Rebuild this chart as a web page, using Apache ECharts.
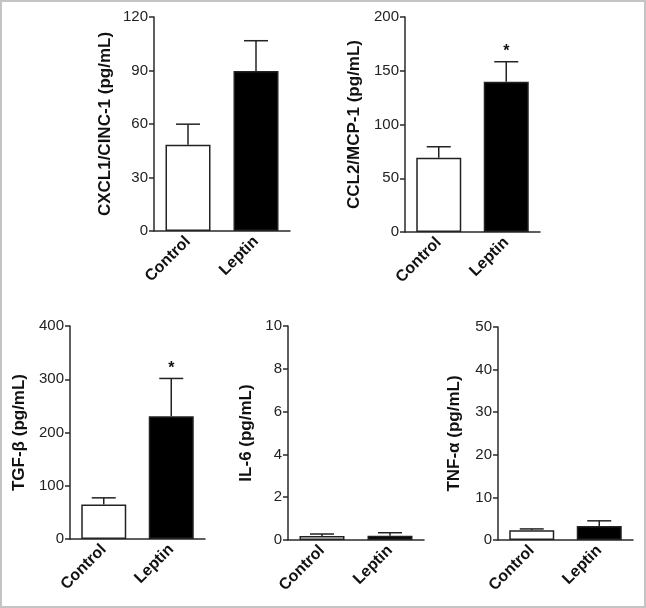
<!DOCTYPE html>
<html>
<head>
<meta charset="utf-8">
<script src="https://cdn.jsdelivr.net/npm/echarts@6/dist/echarts.min.js"></script>
<style>
html,body{margin:0;padding:0;background:#fff;}
#c{width:646px;height:608px;}
</style>
</head>
<body>
<div id="c"></div>
<script>
// ---- data ----
const categories = ['Control', 'Leptin'];
const yNames = ['CXCL1/CINC-1 (pg/mL)', 'CCL2/MCP-1 (pg/mL)', 'TGF-β (pg/mL)', 'IL-6 (pg/mL)', 'TNF-α (pg/mL)'];
const cxcl1Mean = [48.3, 89.7];
const cxcl1Err  = [11.6, 17.0];
const ccl2Mean  = [69.1, 139.8];
const ccl2Err   = [10.2, 18.6];
const tgfMean   = [64.8, 230.3];
const tgfErr    = [12.5, 71.2];
const il6Mean   = [0.19, 0.20];
const il6Err    = [0.09, 0.14];
const tnfMean   = [2.3, 3.3];
const tnfErr    = [0.3, 1.2];
const cxcl1Sig  = ['', ''];
const ccl2Sig   = ['', '*'];
const tgfSig    = ['', '*'];
const il6Sig    = ['', ''];
const tnfSig    = ['', ''];
const yMax      = [120, 200, 400, 10, 50];
const yStep     = [30, 50, 100, 2, 10];

// ---- layout ----
const grids = [
  {left: 154, top: 17, width: 136, height: 214},
  {left: 405, top: 17, width: 135, height: 215},
  {left: 70,  top: 326, width: 135, height: 213},
  {left: 288, top: 326, width: 136, height: 214},
  {left: 498, top: 327, width: 135, height: 213}
];
const nameGaps = [40, 42, 42, 33, 35];
const means = [cxcl1Mean, ccl2Mean, tgfMean, il6Mean, tnfMean];
const errs  = [cxcl1Err, ccl2Err, tgfErr, il6Err, tnfErr];
const sigs  = [cxcl1Sig, ccl2Sig, tgfSig, il6Sig, tnfSig];

const FONT = 'Arial, "Liberation Sans", Helvetica, sans-serif';
const AX = '#2a2a2a';
const barColors = ['#ffffff', '#000000'];

const option = {
  animation: false,
  backgroundColor: '#fff',
  textStyle: {fontFamily: FONT},
  graphic: [{
    type: 'rect', shape: {x: 1, y: 1, width: 644, height: 606},
    style: {fill: 'none', stroke: '#c4c4c4', lineWidth: 2}, silent: true
  }],
  grid: grids.map(g => Object.assign({containLabel: false}, g)),
  xAxis: grids.map((g, i) => ({
    type: 'category', gridIndex: i, data: categories, boundaryGap: true,
    axisLine: {lineStyle: {color: AX, width: 1.5}},
    axisTick: {alignWithLabel: true, length: 5, lineStyle: {color: AX, width: 1.5}},
    axisLabel: {rotate: 45, interval: 0, margin: 8, fontSize: 16, fontWeight: 'bold', color: '#111', fontFamily: FONT},
    splitLine: {show: false}
  })),
  yAxis: grids.map((g, i) => ({
    type: 'value', gridIndex: i, min: 0, max: yMax[i], interval: yStep[i],
    name: yNames[i], nameLocation: 'middle', nameRotate: 90, nameGap: nameGaps[i],
    nameTextStyle: {fontSize: 17, fontWeight: 'bold', color: '#111', fontFamily: FONT},
    axisLine: {show: true, lineStyle: {color: AX, width: 1.5}},
    axisTick: {show: true, length: 5, lineStyle: {color: AX, width: 1.5}},
    axisLabel: {margin: 6, fontSize: 15, color: '#222', fontFamily: FONT},
    splitLine: {show: false}
  })),
  series: []
};

means.forEach((m, i) => {
  option.series.push({
    type: 'bar', xAxisIndex: i, yAxisIndex: i, barWidth: 45,
    data: m.map((v, k) => ({value: v, itemStyle: {color: barColors[k], borderColor: '#222', borderWidth: 1.5}})),
    z: 2
  });
  option.series.push({
    type: 'custom', xAxisIndex: i, yAxisIndex: i, z: 5,
    data: m.map((v, k) => [k, v, v + errs[i][k]]),
    renderItem: function (params, api) {
      const x = api.value(0);
      const lo = api.coord([x, api.value(1)]);
      const hi = api.coord([x, api.value(2)]);
      const sig = sigs[i][params.dataIndex];
      const cap = 12;
      const st = {stroke: '#222', lineWidth: 1.5};
      const children = [
        {type: 'line', shape: {x1: lo[0], y1: lo[1], x2: hi[0], y2: hi[1]}, style: st},
        {type: 'line', shape: {x1: hi[0] - cap, y1: hi[1], x2: hi[0] + cap, y2: hi[1]}, style: st}
      ];
      if (sig) {
        children.push({type: 'text', style: {text: sig, x: hi[0], y: hi[1] - 10, textAlign: 'center', textVerticalAlign: 'middle',
          font: 'bold 16px ' + FONT, fill: '#111'}});
      }
      return {type: 'group', children: children};
    }
  });
});

const chart = echarts.init(document.getElementById('c'), null, {renderer: 'canvas'});
chart.setOption(option);
</script>
</body>
</html>
